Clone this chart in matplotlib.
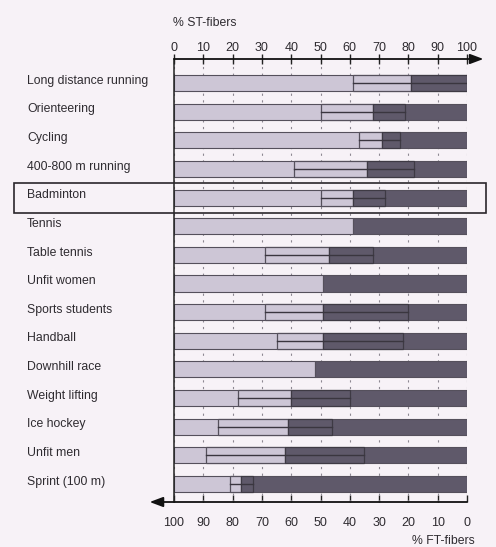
import matplotlib
matplotlib.use("Agg")
import matplotlib.pyplot as plt
from matplotlib.patches import Rectangle
from matplotlib.transforms import blended_transform_factory

# % ST-fibers: mean and range (low, high) per group; None = no range shown
sports = ["Long distance running", "Orienteering", "Cycling", "400-800 m running",
          "Badminton", "Tennis", "Table tennis", "Unfit women", "Sports students",
          "Handball", "Downhill race", "Weight lifting", "Ice hockey", "Unfit men",
          "Sprint (100 m)"]
st_mean = [81, 68, 71, 66, 61, 61, 53, 51, 51, 51, 48, 40, 39, 38, 23]
st_low = [61, 50, 63, 41, 50, None, 31, None, 31, 35, None, 22, 15, 11, 19]
st_high = [100, 79, 77, 82, 72, None, 68, None, 80, 78, None, 60, 54, 65, 27]
ticks = [0, 10, 20, 30, 40, 50, 60, 70, 80, 90, 100]

light = "#cdc6d6"
dark = "#5f596a"
edge = "#55505c"
bg = "#f7f2f7"
txt = "#2e2b30"

W, H = 496, 547
fig = plt.figure(figsize=(W / 100, H / 100), dpi=100)
fig.patch.set_facecolor(bg)
ax = fig.add_axes([174 / W, (H - 502) / H, (467 - 174) / W, (502 - 59) / H])
ax.set_facecolor(bg)

rows = list(range(len(sports)))
bh = 0.56
for i in rows:
    m = st_mean[i]
    ax.barh(i, m, height=bh, color=light, edgecolor=edge, linewidth=0.8, zorder=2)
    ax.barh(i, 100 - m, left=m, height=bh, color=dark, edgecolor=edge, linewidth=0.8, zorder=2)
    if st_low[i] is not None:
        lo, hi = st_low[i], st_high[i]
        ax.barh(i, m - lo, left=lo, height=bh, color=light, edgecolor=edge, linewidth=0.9, zorder=3)
        ax.barh(i, hi - m, left=m, height=bh, color=dark, edgecolor="#3e3a44", linewidth=0.9, zorder=3)
        ax.plot([lo, hi], [i, i], color="#3a363f", lw=1.0, zorder=4)

ax.set_xlim(0, 100)
ax.set_ylim(14.63, -0.84)
ax.grid(axis="x", linestyle=(0, (2, 4)), color="#8d8892", lw=0.8, zorder=0)
ax.set_axisbelow(True)
ax.set_yticks([])

for s in ["top", "bottom", "right"]:
    ax.spines[s].set_visible(False)
ax.spines["left"].set_color("#222")
ax.spines["left"].set_linewidth(1.1)

# top axis: % ST-fibers
ax.xaxis.tick_top()
ax.set_xticks(ticks)
ax.set_xticklabels([str(t) for t in ticks])
ax.tick_params(axis="x", which="both", direction="inout", length=7, width=1,
               color="#222", labelsize=9, labelcolor=txt, pad=0,
               top=True, bottom=False, labeltop=True, labelbottom=False)

# bottom axis: % FT-fibers (100 - ST)
sec = ax.secondary_xaxis("bottom", functions=(lambda x: 100 - x, lambda x: 100 - x))
sec.set_xticks(ticks)
sec.set_xticklabels([str(t) for t in ticks])
sec.spines["bottom"].set_visible(False)
sec.tick_params(direction="in", length=5, width=1, color="#222",
                labelsize=9, labelcolor=txt, pad=11)

# axis lines with arrows
arrow = dict(arrowstyle="-|>,head_length=0.8,head_width=0.3", color="#111", lw=1.3,
             shrinkA=0, shrinkB=0)
ax.annotate("", xy=(105.6, 1), xytext=(0, 1), xycoords=("data", "axes fraction"),
            textcoords=("data", "axes fraction"), arrowprops=arrow, annotation_clip=False)
ax.annotate("", xy=(-8.3, 0), xytext=(100, 0), xycoords=("data", "axes fraction"),
            textcoords=("data", "axes fraction"), arrowprops=arrow, annotation_clip=False)

# group labels
tr = blended_transform_factory(fig.transFigure, ax.transData)
for i, name in enumerate(sports):
    ax.text(27 / W, i - 0.08, name, transform=tr, ha="left", va="center",
            fontsize=8.8, color=txt, family="Liberation Sans")

fig.text(173 / W, 1 - 23 / H, "% ST-fibers", ha="left", va="center",
         fontsize=8.8, color=txt, family="Liberation Sans")
fig.text(475 / W, 1 - 541 / H, "% FT-fibers", ha="right", va="center",
         fontsize=8.8, color=txt, family="Liberation Sans")

# highlight box round Badminton
fig.patches.append(Rectangle((14 / W, (H - 213) / H), 472 / W, 30 / H,
                             transform=fig.transFigure, fill=False,
                             edgecolor="#2a272c", lw=1.2, zorder=10))

for lab in ax.get_xticklabels() + sec.get_xticklabels():
    lab.set_family("Liberation Sans")

fig.savefig("out.png", dpi=100, facecolor=bg)
